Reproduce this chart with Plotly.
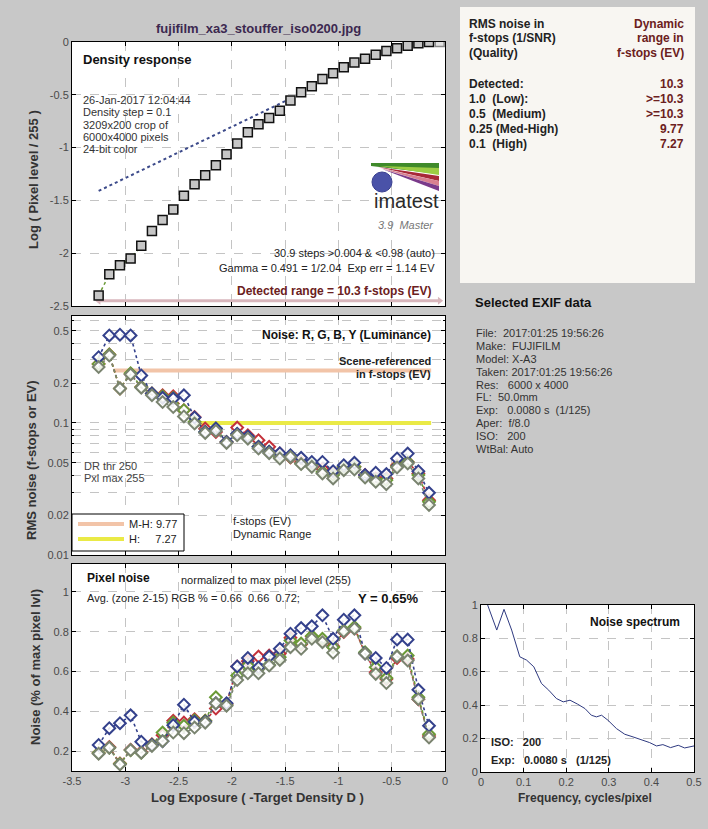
import plotly.graph_objects as go

W, H = 708, 829
FONT = "Liberation Sans, Arial, sans-serif"

# ---------------- data ----------------
density_x = [-3.25, -3.15, -3.05, -2.95, -2.85, -2.75, -2.65, -2.55, -2.45, -2.35, -2.25,
             -2.15, -2.05, -1.95, -1.85, -1.75, -1.65, -1.55, -1.45, -1.35, -1.25, -1.15,
             -1.05, -0.95, -0.85, -0.75, -0.65, -0.55, -0.45, -0.35, -0.25, -0.15, -0.05]
density_y = [-2.40, -2.20, -2.115, -2.05, -1.93, -1.79, -1.686, -1.585, -1.455, -1.348, -1.263,
             -1.168, -1.064, -0.96, -0.855, -0.78, -0.72, -0.65, -0.553, -0.477, -0.42, -0.35,
             -0.297, -0.24, -0.193, -0.158, -0.12, -0.085, -0.06, -0.035, -0.013, 0.0, 0.0]
gamma_fit_x = [-3.25, -1.50]
gamma_fit_y = [-1.41, -0.56]
detected_range_x = [-3.25, -0.05]
detected_range_y = [-2.45, -2.45]

noise_x = density_x[:-1]
rms_R = [0.28, 0.33, 0.182, 0.235, 0.187, 0.167, 0.162, 0.159, 0.125, 0.111, 0.0906, 0.0855,
         0.0718, 0.0922, 0.0807, 0.074, 0.0659, 0.0586, 0.0547, 0.0507, 0.0493, 0.045, 0.0414,
         0.0465, 0.0465, 0.0403, 0.038, 0.038, 0.0479, 0.0507, 0.0414, 0.026]
rms_G = [0.28, 0.33, 0.182, 0.238, 0.187, 0.167, 0.159, 0.155, 0.125, 0.102, 0.0855, 0.0906,
         0.0718, 0.082, 0.078, 0.0659, 0.0604, 0.0553, 0.0553, 0.0493, 0.0488, 0.0426, 0.0403,
         0.0465, 0.0465, 0.039, 0.0369, 0.0369, 0.047, 0.0507, 0.0403, 0.0253]
rms_B = [0.315, 0.46, 0.466, 0.46, 0.229, 0.167, 0.155, 0.153, 0.162, 0.11, 0.0855, 0.0906,
         0.0718, 0.083, 0.079, 0.0659, 0.0604, 0.059, 0.057, 0.0544, 0.0507, 0.0507, 0.0431,
         0.0479, 0.0499, 0.0403, 0.042, 0.041, 0.0538, 0.0586, 0.0431, 0.0296]
rms_Y = [0.265, 0.324, 0.182, 0.233, 0.185, 0.162, 0.144, 0.132, 0.112, 0.0989, 0.084, 0.087,
         0.0706, 0.0807, 0.076, 0.064, 0.059, 0.0538, 0.0553, 0.0488, 0.0465, 0.0414, 0.038,
         0.0439, 0.0444, 0.0386, 0.0358, 0.0344, 0.046, 0.0493, 0.038, 0.0239]

dr_mh_x = [-3.11, -0.13]
dr_mh_level = 0.25
dr_h_x = [-2.36, -0.13]
dr_h_level = 0.1

pix_R = [0.19, 0.22, 0.138, 0.207, 0.195, 0.234, 0.28, 0.352, 0.343, 0.36, 0.352, 0.414, 0.436,
         0.625, 0.652, 0.675, 0.68, 0.69, 0.77, 0.736, 0.776, 0.76, 0.727, 0.798, 0.818, 0.692,
         0.596, 0.562, 0.668, 0.663, 0.461, 0.276]
pix_G = [0.19, 0.217, 0.136, 0.204, 0.192, 0.232, 0.293, 0.343, 0.327, 0.355, 0.352, 0.47, 0.431,
         0.58, 0.63, 0.613, 0.633, 0.672, 0.756, 0.74, 0.778, 0.764, 0.722, 0.806, 0.823, 0.697,
         0.621, 0.567, 0.677, 0.68, 0.47, 0.285]
pix_B = [0.231, 0.315, 0.34, 0.38, 0.247, 0.231, 0.25, 0.33, 0.433, 0.347, 0.347, 0.44, 0.44,
         0.625, 0.668, 0.62, 0.675, 0.714, 0.79, 0.818, 0.827, 0.882, 0.764, 0.86, 0.882, 0.69,
         0.668, 0.618, 0.761, 0.76, 0.508, 0.327]
pix_Y = [0.187, 0.217, 0.133, 0.205, 0.192, 0.226, 0.25, 0.293, 0.29, 0.318, 0.343, 0.44, 0.428,
         0.557, 0.591, 0.591, 0.63, 0.658, 0.722, 0.714, 0.764, 0.747, 0.694, 0.801, 0.815, 0.69,
         0.588, 0.542, 0.675, 0.655, 0.461, 0.268]

spec_f = [0.0156, 0.037, 0.054, 0.072, 0.091, 0.107, 0.124, 0.142, 0.159, 0.177, 0.193, 0.209,
          0.227, 0.244, 0.259, 0.271, 0.283, 0.298, 0.318, 0.3375, 0.357, 0.377, 0.396, 0.412,
          0.427, 0.445, 0.463, 0.478, 0.5]
spec_v = [1.0, 0.85, 0.974, 0.85, 0.69, 0.67, 0.63, 0.53, 0.49, 0.44, 0.42, 0.43, 0.406, 0.38,
          0.34, 0.33, 0.34, 0.31, 0.26, 0.226, 0.21, 0.194, 0.176, 0.156, 0.164, 0.146, 0.16,
          0.144, 0.156]

log_ticks = [-3.5, -3, -2.5, -2, -1.5, -1, -0.5, 0]
log_ticklabels = ["-3.5", "-3", "-2.5", "-2", "-1.5", "-1", "-0.5", "0"]

# ---------------- helpers ----------------
def px(x):
    return x / W

def py(y):
    return 1 - y / H

C_R, C_G, C_B, C_Y = "#c4303a", "#6a9a36", "#34418c", "#7a8470"

fig = go.Figure()

# --- density response ---
fig.add_trace(go.Scatter(x=gamma_fit_x, y=gamma_fit_y, mode="lines",
                         line=dict(color="#3c4a8a", dash="dot", width=2), xaxis="x", yaxis="y",
                         showlegend=False))
fig.add_trace(go.Scatter(x=density_x[:5], y=density_y[:5], mode="lines",
                         line=dict(color="#6a9a36", dash="dot", width=1.5), xaxis="x", yaxis="y",
                         showlegend=False))
fig.add_trace(go.Scatter(x=detected_range_x, y=detected_range_y, mode="lines+markers",
                         line=dict(color="#d8b6bc", width=3),
                         marker=dict(symbol=["triangle-left", "triangle-right"], size=7, color="#d8b6bc"),
                         xaxis="x", yaxis="y", showlegend=False))
sq_fill = ["#c6c6c6"] * (len(density_x) - 1) + ["#e2e2e2"]
sq_line = ["#111111"] * (len(density_x) - 1) + ["#8a8a8a"]
fig.add_trace(go.Scatter(x=density_x, y=density_y, mode="markers",
                         marker=dict(symbol="square", size=9, color=sq_fill,
                                     line=dict(color=sq_line, width=1.5)),
                         xaxis="x", yaxis="y", showlegend=False))

# --- RMS noise ---
fig.add_trace(go.Scatter(x=dr_mh_x, y=[dr_mh_level] * 2, mode="lines",
                         line=dict(color="#f2c4a8", width=4), xaxis="x2", yaxis="y2", showlegend=False))
fig.add_trace(go.Scatter(x=dr_h_x, y=[dr_h_level] * 2, mode="lines",
                         line=dict(color="#eaea46", width=4), xaxis="x2", yaxis="y2", showlegend=False))
for ys, c in [(rms_R, C_R), (rms_G, C_G), (rms_B, C_B), (rms_Y, C_Y)]:
    fig.add_trace(go.Scatter(x=noise_x, y=ys, mode="lines+markers",
                             line=dict(color=c, dash="dot", width=1.6),
                             marker=dict(symbol="diamond", size=9, color="rgba(255,255,255,0.85)",
                                         line=dict(color=c, width=2)),
                             xaxis="x2", yaxis="y2", showlegend=False))

# --- pixel noise ---
for ys, c in [(pix_R, C_R), (pix_G, C_G), (pix_B, C_B), (pix_Y, C_Y)]:
    fig.add_trace(go.Scatter(x=noise_x, y=ys, mode="lines+markers",
                             line=dict(color=c, dash="dot", width=1.6),
                             marker=dict(symbol="diamond", size=9, color="rgba(255,255,255,0.85)",
                                         line=dict(color=c, width=2)),
                             xaxis="x3", yaxis="y3", showlegend=False))

# --- noise spectrum ---
fig.add_trace(go.Scatter(x=spec_f, y=spec_v, mode="lines", line=dict(color="#2f3a80", width=1),
                         xaxis="x4", yaxis="y4", showlegend=False))

grid = dict(showgrid=True, gridcolor="#c4c4c4", griddash="dash", gridwidth=1)
axis_common = dict(showline=True, linecolor="black", linewidth=1, mirror="ticks", ticks="inside",
                   ticklen=4, tickcolor="black", zeroline=False, automargin=False,
                   tickfont=dict(family=FONT, size=11, color="#4a4a4a"), **grid)

xdom = [px(72), px(445)]
fig.update_layout(
    template="none",
    width=W, height=H, autosize=False,
    margin=dict(l=0, r=0, t=0, b=0, pad=0),
    paper_bgcolor="#c8c8c8", plot_bgcolor="white",
    font=dict(family=FONT, size=11, color="#333"),
    xaxis=dict(domain=xdom, anchor="y", range=[-3.5, 0], tickvals=log_ticks, showticklabels=False, **axis_common),
    yaxis=dict(domain=[py(306), py(42)], anchor="x", range=[-2.5, 0],
               tickvals=[0, -0.5, -1, -1.5, -2, -2.5],
               ticktext=["0", "-0.5", "-1", "-1.5", "-2", "-2.5"], **axis_common),
    xaxis2=dict(domain=xdom, anchor="y2", range=[-3.5, 0], tickvals=log_ticks, showticklabels=False, **axis_common),
    yaxis2=dict(domain=[py(555), py(316)], anchor="x2", type="log", range=[-2, -0.19],
                tickvals=[0.01, 0.02, 0.05, 0.1, 0.2, 0.5],
                ticktext=["0.01", "0.02", "0.05", "0.1", "0.2", "0.5"],
                minor=dict(tickvals=[0.03, 0.04, 0.06, 0.07, 0.08, 0.09, 0.3, 0.4, 0.6],
                           showgrid=True, gridcolor="#c4c4c4", griddash="dash", ticks="inside",
                           ticklen=2, tickcolor="black"),
                **axis_common),
    xaxis3=dict(domain=xdom, anchor="y3", range=[-3.5, 0], tickvals=log_ticks,
                ticktext=log_ticklabels, **axis_common),
    yaxis3=dict(domain=[py(771), py(564)], anchor="x3", range=[0.1, 1.14],
                tickvals=[0.2, 0.4, 0.6, 0.8, 1.0], ticktext=["0.2", "0.4", "0.6", "0.8", "1"],
                **axis_common),
    xaxis4=dict(domain=[px(481), px(694)], anchor="y4", range=[0, 0.5],
                tickvals=[0, 0.1, 0.2, 0.3, 0.4, 0.5],
                ticktext=["0", "0.1", "0.2", "0.3", "0.4", "0.5"], **axis_common),
    yaxis4=dict(domain=[py(772), py(605)], anchor="x4", range=[0, 1],
                tickvals=[0, 0.2, 0.4, 0.6, 0.8, 1], ticktext=["0", "0.2", "0.4", "0.6", "0.8", "1"],
                **axis_common),
)

shapes = []
# right info panel
shapes.append(dict(type="rect", xref="paper", yref="paper", x0=px(460), x1=px(695), y0=py(283), y1=py(7),
                   fillcolor="#f8f6f2", line=dict(width=0), layer="below"))
# legend box in noise plot
shapes.append(dict(type="rect", xref="paper", yref="paper", x0=px(72), x1=px(184), y0=py(551), y1=py(514),
                   fillcolor="white", line=dict(color="black", width=1)))
shapes.append(dict(type="line", xref="paper", yref="paper", x0=px(78), x1=px(124), y0=py(524), y1=py(524),
                   line=dict(color="#f2c4a8", width=4)))
shapes.append(dict(type="line", xref="paper", yref="paper", x0=px(78), x1=px(124), y0=py(539), y1=py(539),
                   line=dict(color="#eaea46", width=4)))
# imatest logo stripes
logo = [
    ("#3f8a2a", [(371, 163), (439, 163), (439, 174), (371, 166)]),
    ("#9ccc44", [(380, 166), (439, 168), (439, 175)]),
    ("#a82838", [(378, 167), (439, 176), (439, 181)]),
    ("#d88090", [(380, 168), (439, 181), (439, 186)]),
    ("#7a3a8a", [(382, 169), (439, 186), (439, 191)]),
]
for col, pts in logo:
    path = "M " + " L ".join(f"{px(a):.5f},{py(b):.5f}" for a, b in pts) + " Z"
    shapes.append(dict(type="path", xref="paper", yref="paper", path=path, fillcolor=col,
                       line=dict(width=0)))
shapes.append(dict(type="circle", xref="paper", yref="paper", x0=px(372), x1=px(392), y0=py(192), y1=py(172),
                   fillcolor="#4a52a8", line=dict(color="#3a3f90", width=1)))
fig.update_layout(shapes=shapes)

ann = []

def T(x, y, text, size=11, bold=False, color="#333", xanchor="left", angle=0, italic=False):
    t = text
    if bold:
        t = "<b>" + t + "</b>"
    if italic:
        t = "<i>" + t + "</i>"
    ann.append(dict(x=px(x), y=py(y), xref="paper", yref="paper", text=t, showarrow=False,
                    xanchor=xanchor, yanchor="middle", textangle=angle,
                    font=dict(family=FONT, size=size, color=color)))

T(258, 28, "fujifilm_xa3_stouffer_iso0200.jpg", 13, True, "#3c2850", "center")

# top plot texts
T(81, 59, "Density response", 13, True, "#111")
for i, line in enumerate(["26-Jan-2017 12:04:44", "Density step = 0.1", "3209x200 crop of",
                          "6000x4000 pixels", "24-bit color"]):
    T(81, 100 + i * 12.3, line, 11, False, "#333")
T(437, 253, "30.9 steps &gt;0.004 &amp; &lt;0.98 (auto)", 11, False, "#222", "right")
T(437, 268, "Gamma = 0.491 = 1/2.04  Exp err = 1.14 EV", 11, False, "#222", "right")
T(433, 291, "Detected range = 10.3 f-stops (EV)", 12, True, "#6b2020", "right")
T(406, 201, "imatest", 20, False, "#2a2a2a", "center")
T(406, 225, "3.9  Master", 11, False, "#777", "center", italic=True)

# middle texts
T(433, 335, "Noise: R, G, B, Y (Luminance)", 12, True, "#111", "right")
T(433, 361, "Scene-referenced", 11, True, "#222", "right")
T(433, 374, "in f-stops (EV)", 11, True, "#222", "right")
T(82, 466, "DR thr 250", 11, False, "#444")
T(82, 478, "Pxl max 255", 11, False, "#444")
T(231, 521, "f-stops (EV)", 11, False, "#222")
T(231, 534, "Dynamic Range", 11, False, "#222")
T(127, 524, "M-H: 9.77", 11, False, "#222")
T(127, 539, "H:     7.27", 11, False, "#222")

# bottom texts
T(85, 578, "Pixel noise", 12, True, "#111")
T(179, 580, "normalized to max pixel level (255)", 11, False, "#222")
T(85, 598, "Avg. (zone 2-15) RGB % = 0.66  0.66  0.72;", 11, False, "#222")
T(421, 598, "Y = 0.65%", 13, True, "#111", "right")

# axis titles
T(34, 180, "Log ( Pixel level / 255 )", 13, True, "#333", "center", angle=-90)
T(31, 460, "RMS noise (f-stops or EV)", 13, True, "#333", "center", angle=-90)
T(35, 667, "Noise (% of max pixel lvl)", 13, True, "#333", "center", angle=-90)
T(257, 797, "Log Exposure ( -Target Density D )", 13, True, "#333", "center")

# spectrum
T(682, 622, "Noise spectrum", 12, True, "#111", "right")
T(489, 742, "ISO:   200", 11, True, "#222")
T(489, 760, "Exp:   0.0080 s   (1/125)", 11, True, "#222")
T(585, 798, "Frequency, cycles/pixel", 12, True, "#333", "center")

# right panel
for i, line in enumerate(["RMS noise in", "f-stops (1/SNR)", "(Quality)"]):
    T(467, 24 + i * 14.5, line, 12, True, "#222")
for i, line in enumerate(["Dynamic", "range in", "f-stops (EV)"]):
    T(686, 24 + i * 14.5, line, 12, True, "#6b2020", "right")
rows_l = ["Detected:", "1.0  (Low):", "0.5  (Medium)", "0.25 (Med-High)", "0.1  (High)"]
rows_r = ["10.3", "&gt;=10.3", "&gt;=10.3", "9.77", "7.27"]
for i, (a, b) in enumerate(zip(rows_l, rows_r)):
    T(467, 84 + i * 15, a, 12, True, "#222")
    T(686, 84 + i * 15, b, 12, True, "#6b2020", "right")

# exif
T(473, 302, "Selected EXIF data", 13, True, "#111")
exif = ["File:  2017:01:25 19:56:26", "Make:  FUJIFILM", "Model: X-A3", "Taken: 2017:01:25 19:56:26",
        "Res:   6000 x 4000", "FL:  50.0mm", "Exp:   0.0080 s  (1/125)", "Aper:  f/8.0", "ISO:   200",
        "WtBal: Auto"]
for i, line in enumerate(exif):
    T(474, 333 + i * 12.9, line.replace("  ", "&nbsp; "), 11, False, "#333")

fig.update_layout(annotations=ann)
fig.write_html("out.html", config={"displayModeBar": False},
               post_script="document.body.style.margin='0';document.body.style.overflow='hidden';")
